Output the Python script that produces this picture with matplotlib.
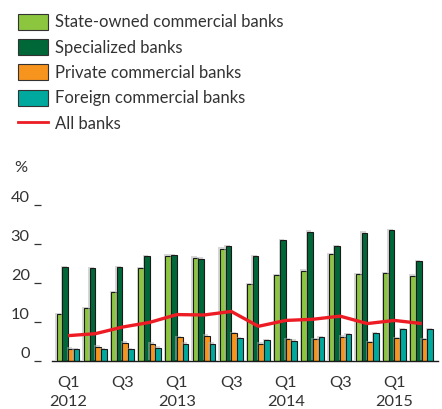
import matplotlib
matplotlib.use("Agg")
import matplotlib.pyplot as plt
import matplotlib.patheffects as pe
from matplotlib.patches import Patch
from matplotlib.lines import Line2D
import numpy as np

quarters = ["Q1\n2012", "Q2", "Q3", "Q4",
            "Q1\n2013", "Q2", "Q3", "Q4",
            "Q1\n2014", "Q2", "Q3", "Q4",
            "Q1\n2015", "Q2"]
tick_labels = ["Q1\n2012", "Q3", "Q1\n2013", "Q3", "Q1\n2014", "Q3", "Q1\n2015"]
tick_idx = [0, 2, 4, 6, 8, 10, 12]

state_owned = [12.0, 13.5, 17.6, 23.8, 27.0, 26.5, 28.8, 19.7, 22.0, 23.2, 27.4, 22.2, 22.5, 21.9]
specialized = [24.0, 23.8, 24.1, 26.8, 27.1, 26.2, 29.4, 26.8, 30.9, 33.2, 29.4, 32.9, 33.5, 25.6]
private = [3.2, 3.7, 4.7, 4.4, 6.1, 6.5, 7.2, 4.4, 5.6, 5.6, 6.2, 4.8, 5.9, 5.6]
foreign = [3.0, 3.0, 3.1, 3.4, 4.4, 4.4, 5.9, 5.3, 5.2, 6.1, 6.9, 7.2, 8.1, 8.1]
all_banks = [6.5, 7.0, 8.7, 9.9, 11.9, 11.8, 12.7, 8.9, 10.4, 10.7, 11.5, 9.6, 10.4, 9.6]

series_names = ["State-owned commercial banks", "Specialized banks",
                "Private commercial banks", "Foreign commercial banks"]
line_name = "All banks"
colors = ["#8cc63f", "#006838", "#f7941d", "#00a99d"]
line_color = "#ed1c24"
text_color = "#333333"

plt.rcParams['font.family'] = ['Lato', 'DejaVu Sans']

fig = plt.figure(figsize=(4.42, 4.09), dpi=100)
ax = fig.add_axes([52 / 442, (409 - 361) / 409, 386 / 442, 156 / 409])

x = np.arange(len(quarters))
w = 0.21
shadow = [pe.SimplePatchShadow(offset=(-1, 1), shadow_rgbFace="#b0b0b0", alpha=0.5), pe.Normal()]
for i, (vals, c) in enumerate(zip([state_owned, specialized, private, foreign], colors)):
    bars = ax.bar(x + (i - 1.5) * w, vals, width=w, color=c, edgecolor="#1a1a1a",
                  linewidth=0.8, zorder=2)
    for b in bars:
        b.set_path_effects(shadow)

ax.plot(x, all_banks, color=line_color, linewidth=2.4, zorder=3, solid_capstyle='butt')

ax.set_xlim(-0.59, 13.6)
ax.set_ylim(0, 40)
for s in ["top", "right", "left"]:
    ax.spines[s].set_visible(False)
ax.spines["bottom"].set_color("#1a1a1a")
ax.spines["bottom"].set_linewidth(1.0)
ax.spines["left"].set_position(("outward", 8))

ax.set_yticks([0, 10, 20, 30, 40])
ax.tick_params(axis="y", length=5, width=0.9, color=text_color, pad=3,
               labelsize=11.8, labelcolor=text_color)
for lab in ax.get_yticklabels():
    lab.set_va("bottom")
ax.set_xticks(tick_idx)
ax.set_xticklabels(tick_labels)
ax.tick_params(axis="x", length=0, pad=11, labelsize=11.8, labelcolor=text_color)
for lab in ax.get_xticklabels():
    lab.set_linespacing(1.42)

fig.text(14 / 442, 1 - 168 / 409, "%", fontsize=11.8, color=text_color, va="center", ha="left")

handles = [Patch(facecolor=c, edgecolor="#333333", linewidth=0.8) for c in colors]
handles.append(Line2D([0], [0], color=line_color, linewidth=2))
leg = fig.legend(handles, series_names + [line_name], loc="upper left",
                 bbox_to_anchor=(11 / 442, 1 - 7 / 409), frameon=False,
                 fontsize=12, handlelength=1.8, handleheight=1.1,
                 handletextpad=0.45, labelspacing=0.52, borderaxespad=0)
for t in leg.get_texts():
    t.set_color(text_color)

fig.savefig("out.png", dpi=100)
